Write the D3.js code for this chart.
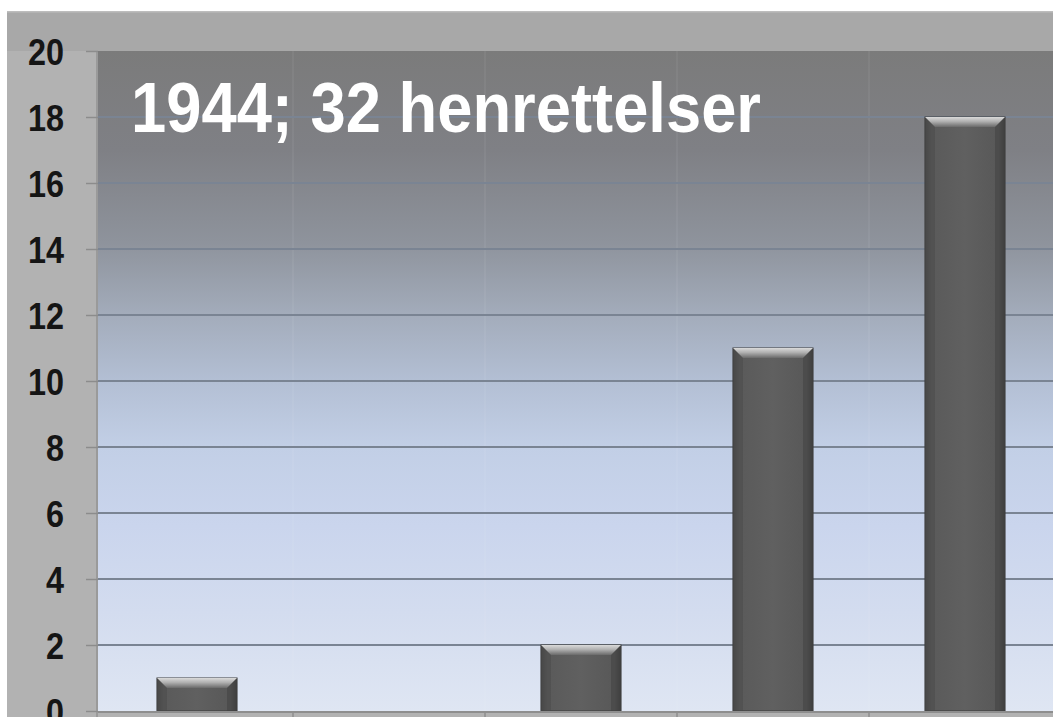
<!DOCTYPE html>
<html><head><meta charset="utf-8">
<script src="https://cdn.jsdelivr.net/npm/d3@7"></script>
<style>html,body{margin:0;padding:0;background:#fff;overflow:hidden}</style>
</head><body>
<script>
const categories = ["A","B","C","D","E"];
const values = [1, 0, 2, 11, 18];
const yTicks = [0,2,4,6,8,10,12,14,16,18,20];
const title = "1944; 32 henrettelser";

const W = 1053, H = 717;
const plot = {x0: 98, x1: 1061, y0: 51, y1: 711};

const svg = d3.select("body").append("svg").attr("width", W).attr("height", H);
const defs = svg.append("defs");

const bg = defs.append("linearGradient").attr("id","bg").attr("x1",0).attr("y1",0).attr("x2",0).attr("y2",1);
[[0,"#7b7b7b"],[0.15,"#7f8085"],[0.29,"#8e939c"],[0.4,"#a3acbb"],[0.5,"#b3bfd4"],[0.6,"#c2cfe6"],[0.72,"#cad5ed"],[0.85,"#d3dcef"],[1,"#dfe6f3"]]
  .forEach(([o,c])=>bg.append("stop").attr("offset",o).attr("stop-color",c));

const bev = defs.append("linearGradient").attr("id","bev").attr("x1",0).attr("y1",0).attr("x2",0).attr("y2",1);
[[0,"#dadada"],[0.45,"#b0b0b0"],[1,"#6a6a6a"]].forEach(([o,c])=>bev.append("stop").attr("offset",o).attr("stop-color",c));
const body = defs.append("linearGradient").attr("id","body").attr("x1",0).attr("y1",0).attr("x2",1).attr("y2",0);
[[0,"#454545"],[0.08,"#5a5a5a"],[0.5,"#606060"],[0.92,"#585858"],[1,"#3e3e3e"]].forEach(([o,c])=>body.append("stop").attr("offset",o).attr("stop-color",c));

// frame
svg.append("rect").attr("x",7).attr("y",11).attr("width",W).attr("height",H).attr("fill","#a8a8a8");
svg.append("rect").attr("x",7).attr("y",plot.y0).attr("width",plot.x0-7).attr("height",H).attr("fill","#b2b2b2");
svg.append("rect").attr("x",7).attr("y",11).attr("width",W).attr("height",1.5).attr("fill","#bdbdbd");

const x = d3.scaleBand().domain(categories).range([plot.x0 + 3, plot.x1]).paddingInner(0.583).paddingOuter(0.2915);
const y = d3.scaleLinear().domain([0,20]).range([plot.y1, plot.y0]);

svg.append("rect").attr("x",plot.x0).attr("y",plot.y0).attr("width",plot.x1-plot.x0).attr("height",plot.y1-plot.y0).attr("fill","url(#bg)");
svg.append("line").attr("x1",plot.x0-1).attr("x2",plot.x0-1).attr("y1",plot.y0).attr("y2",H).attr("stroke","#9a9a9a").attr("stroke-width",2);

// category separators
const step = x.step();
const seps = categories.slice(1).map(c => x(c) - (step - x.bandwidth())/2);
svg.append("g").selectAll("line").data(seps).join("line")
  .attr("x1",d=>d).attr("x2",d=>d).attr("y1",plot.y0).attr("y2",plot.y1)
  .attr("stroke","#ffffff").attr("stroke-opacity",0.1).attr("stroke-width",1);

// gridlines + axis
const yAxis = d3.axisLeft(y).tickValues(yTicks).tickSize(12).tickPadding(22);
const gy = svg.append("g").attr("transform",`translate(${plot.x0},0)`).call(yAxis);
gy.select(".domain").remove();
gy.selectAll(".tick line").attr("stroke","#8c8c8c").attr("stroke-width",1.5);
gy.selectAll(".tick text")
  .attr("fill","#151515").attr("font-family","Liberation Sans, Arial, sans-serif")
  .attr("font-weight","bold").attr("font-size",37).attr("dy","0.36em")
  .attr("textLength", d => d>=10 ? 36 : 18).attr("lengthAdjust","spacingAndGlyphs");

svg.append("g").selectAll("line").data(yTicks.filter(t=>t>0 && t<20)).join("line")
  .attr("x1",plot.x0).attr("x2",plot.x1).attr("y1",d=>y(d)).attr("y2",d=>y(d))
  .attr("stroke","#7a8493").attr("stroke-width",2);

// bars
const bars = svg.append("g").selectAll("g").data(categories.map((c,i)=>({c,v:values[i]})).filter(d=>d.v>0)).join("g");
bars.append("rect").attr("x",d=>x(d.c)).attr("y",d=>y(d.v)).attr("width",x.bandwidth()).attr("height",d=>y(0)-y(d.v))
  .attr("fill","url(#body)").attr("stroke","#3c3c3c").attr("stroke-width",1);
bars.append("path").attr("d",d=>{
  const x0=x(d.c), x1=x0+x.bandwidth(), t=y(d.v), b=10;
  return `M${x0},${t}L${x1},${t}L${x1-b},${t+b}L${x0+b},${t+b}Z`;
}).attr("fill","url(#bev)");
bars.append("path").attr("d",d=>{
  const x0=x(d.c), t=y(d.v), b=10;
  return `M${x0},${t}L${x0+b},${t+b}L${x0+b},${y(0)}L${x0},${y(0)}Z`;
}).attr("fill","#4a4a4a").attr("opacity",0.5);
bars.append("path").attr("d",d=>{
  const x1=x(d.c)+x.bandwidth(), t=y(d.v), b=10;
  return `M${x1},${t}L${x1-b},${t+b}L${x1-b},${y(0)}L${x1},${y(0)}Z`;
}).attr("fill","#3f3f3f").attr("opacity",0.5);

// x axis
svg.append("line").attr("x1",plot.x0).attr("x2",plot.x1).attr("y1",plot.y1+1).attr("y2",plot.y1+1).attr("stroke","#8e8e8e").attr("stroke-width",2);
svg.append("rect").attr("x",plot.x0).attr("y",plot.y1+2).attr("width",W).attr("height",10).attr("fill","#b2b2b2");
svg.append("g").selectAll("line").data(seps).join("line")
  .attr("x1",d=>d).attr("x2",d=>d).attr("y1",plot.y1).attr("y2",H).attr("stroke","#8e8e8e").attr("stroke-width",1.5);

// title
svg.append("text").attr("x",131).attr("y",132).text(title)
  .attr("fill","#ffffff").attr("font-family","Liberation Sans, Arial, sans-serif").attr("font-weight","bold")
  .attr("font-size",70).attr("textLength",630).attr("lengthAdjust","spacingAndGlyphs");
</script>
</body></html>
